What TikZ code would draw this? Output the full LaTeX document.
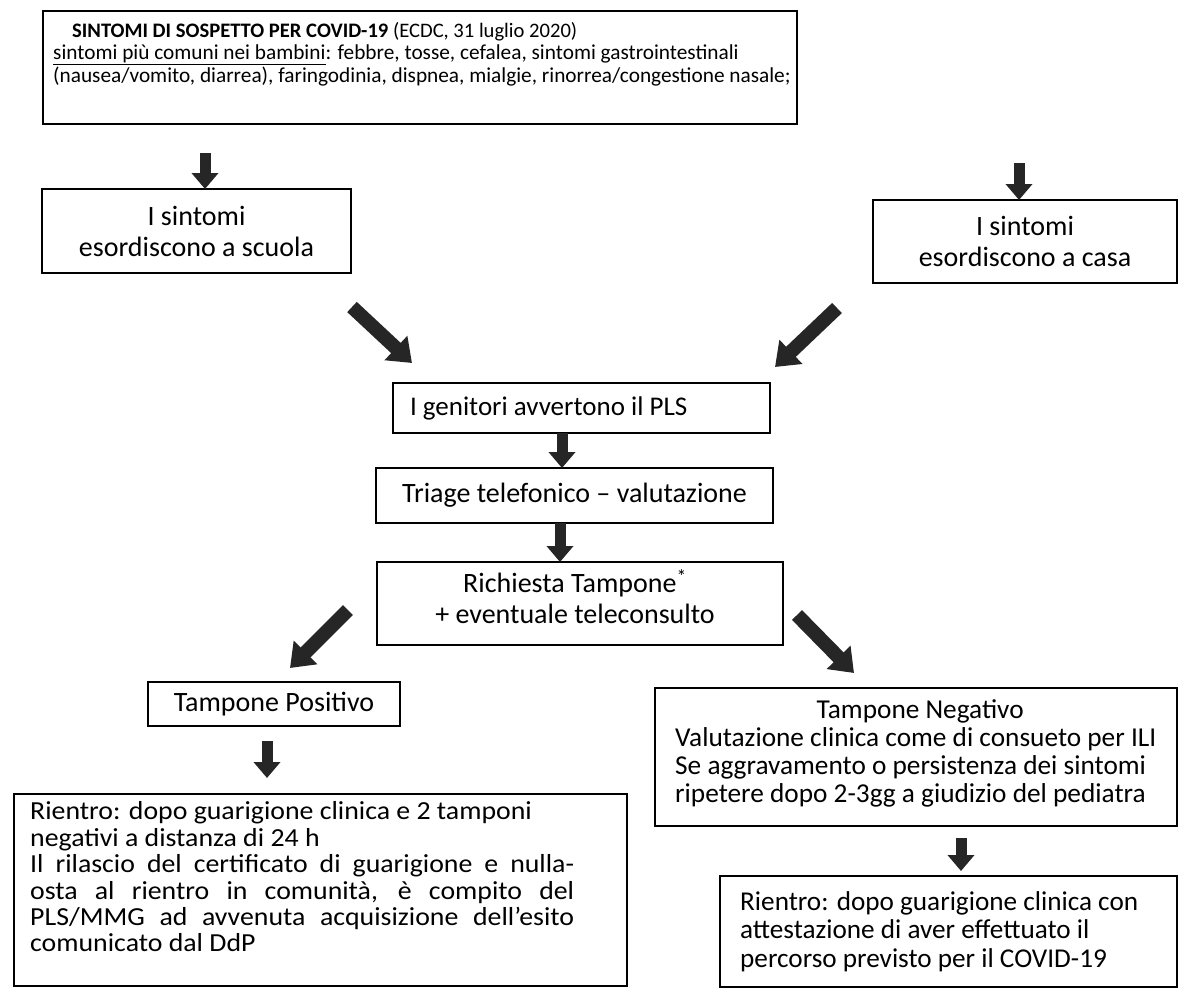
\documentclass[tikz,border=0pt]{standalone}
\usepackage{fontspec}
\setmainfont{Carlito}
\newfontfamily\widecarlito[FakeStretch=1.07]{Carlito}
\usetikzlibrary{arrows.meta}
\begin{document}
\begin{tikzpicture}[x=1pt,y=-1pt,
  box/.style={draw=black, line width=1.7pt, inner sep=0pt, outer sep=0pt},
  vblk/.style={draw=black!85, line width=11pt, -{Triangle[width=26pt,length=16pt]}},
  dblk/.style={draw=black!85, line width=14pt, -{Triangle[width=32pt,length=22pt]}},
  midf/.style={font=\fontsize{28}{31}\selectfont},
]
\fill[white] (0,0) rectangle (1188,1001);
\useasboundingbox (0,0) rectangle (1188,1001);

% top box
\node[box, minimum width=754pt, minimum height=113pt] (top) at (420,67.5) {};
\node[anchor=west, align=left, inner sep=0pt, font=\fontsize{21.3}{22.6}\selectfont] (toptxt) at (53,54)
 {\hspace*{19pt}{\fontsize{20.6}{22.6}\selectfont\textbf{SINTOMI DI SOSPETTO PER COVID-19} (ECDC, 31 luglio 2020)}\\
  \underline{sintomi più comuni nei bambini}: febbre, tosse, cefalea, sintomi gastrointestinali\\
  (nausea/vomito, diarrea), faringodinia, dispnea, mialgie, rinorrea/congestione nasale;};

\node[box, midf, minimum width=309pt, minimum height=84pt, align=center] (scuola) at (196.5,231) {I sintomi\\esordiscono a scuola};
\node[box, midf, minimum width=304pt, minimum height=83pt, align=center] (casa) at (1025,241.5) {I sintomi\\esordiscono a casa};
\node[box, font=\fontsize{27}{31}\selectfont, minimum width=377pt, minimum height=50pt, text width=343pt, inner xsep=17pt, align=flush left] (pls) at (581.5,408) {I genitori avvertono il PLS};
\node[box, midf, minimum width=397pt, minimum height=55pt, align=center] (triage) at (574.5,495.5) {Triage telefonico – valutazione};
\node[box, minimum width=406pt, minimum height=83pt] (rich) at (580,603.5) {};
\node[midf, align=center, inner sep=0pt] (richtxt) at (575,597) {Richiesta Tampone\textsuperscript{*}\\+ eventuale teleconsulto};
\node[box, midf, minimum width=252pt, minimum height=44pt] (pos) at (274,704) {Tampone Positivo};

\node[box, minimum width=522pt, minimum height=138pt] (neg) at (916,757) {};
\node[anchor=west, align=left, inner sep=0pt, font=\fontsize{27.3}{27.8}\selectfont] (negtxt) at (675,753.5)
 {\makebox[490pt]{Tampone Negativo}\\Valutazione clinica come di consueto per ILI\\Se aggravamento o persistenza dei sintomi\\ripetere dopo 2-3gg a giudizio del pediatra};

\node[box, minimum width=613pt, minimum height=192pt] (posr) at (320.5,890) {};
\node[anchor=west, align=left, inner sep=0pt, font={\widecarlito\fontsize{26}{26.4}\selectfont}] (posrtxt) at (30,877)
 {Rientro: dopo guarigione clinica e 2 tamponi\\negativi a distanza di 24 h\\\makebox[544pt][s]{Il rilascio del certificato di guarigione e nulla-}\\\makebox[544pt][s]{osta al rientro in comunità, è compito del}\\\makebox[544pt][s]{PLS/MMG ad avvenuta acquisizione dell’esito}\\comunicato dal DdP};

\node[box, minimum width=457pt, minimum height=111pt] (negr) at (948.5,931.5) {};
\node[anchor=west, align=left, inner sep=0pt, font=\fontsize{27.2}{28.5}\selectfont] (negrtxt) at (740,931.5)
 {Rientro: dopo guarigione clinica con\\attestazione di aver effettuato il\\percorso previsto per il COVID-19};

% vertical block arrows
\coordinate (a1) at (205,153);
\draw[vblk] (a1) -- (a1 |- scuola.north);
\coordinate (a2) at (1019,163);
\draw[vblk] (a2) -- (a2 |- casa.north);
\coordinate (a3) at (562,0);
\draw[vblk] (a3 |- pls.south) -- (a3 |- triage.north);
\coordinate (a4) at (560,0);
\draw[vblk] (a4 |- triage.south) -- (a4 |- rich.north);
\coordinate (a5s) at (267,741); \coordinate (a5e) at (267,778);
\draw[vblk] (a5s) -- (a5e);
\coordinate (a6s) at (961,838); \coordinate (a6e) at (961,871);
\draw[vblk] (a6s) -- (a6e);

% diagonal block arrows
\coordinate (d1s) at (352,307); \coordinate (d1e) at (412,363);
\coordinate (d2s) at (837,308); \coordinate (d2e) at (775,367);
\coordinate (d3s) at (348,610); \coordinate (d3e) at (290,668);
\coordinate (d4s) at (797,615); \coordinate (d4e) at (854,673);
\draw[dblk] (d1s) -- (d1e);
\draw[dblk] (d2s) -- (d2e);
\draw[dblk] (d3s) -- (d3e);
\draw[dblk] (d4s) -- (d4e);
\end{tikzpicture}
\end{document}
